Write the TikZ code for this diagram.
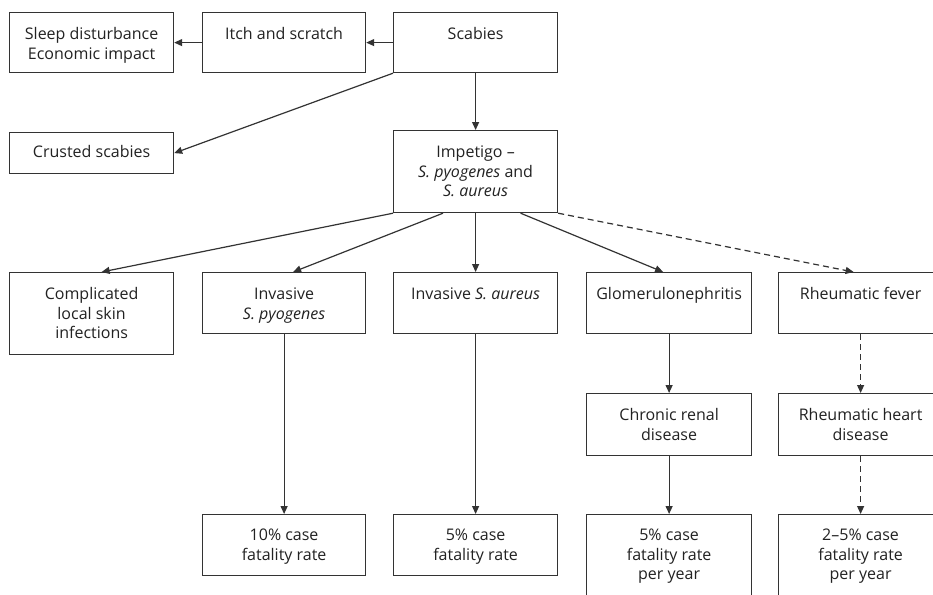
\documentclass[tikz,border=0pt]{standalone}
\usepackage{fontspec}
\setmainfont{Open Sans}
\usetikzlibrary{arrows.meta}
\definecolor{linec}{HTML}{333333}
\definecolor{textc}{HTML}{222222}
\newcommand\bxt[4]{\parbox[c][#2][t]{#1}{\centering\rule{0pt}{#3}#4\par}}
\tikzset{
  box/.style={draw=linec, line width=1.2pt, inner sep=0pt, anchor=north west, text=textc,
    font=\fontsize{16}{19.5}\selectfont},
  arr/.style={draw=linec, line width=1.2pt, -{Triangle[length=8pt,width=7pt]}},
  darr/.style={arr, dash pattern=on 6pt off 4pt}
}
\begin{document}
\begin{tikzpicture}[x=1pt,y=-1pt]
\useasboundingbox (0,0) rectangle (933,594);
\clip (0,0) rectangle (933,594);
\fill[white] (0,0) rectangle (933,594);
% row 1
\node[box] (sleep) at (9,12) {\bxt{164pt}{60pt}{27pt}{Sleep disturbance\\Economic impact}};
\node[box] (itch) at (202,12) {\bxt{163pt}{60pt}{27pt}{Itch and scratch}};
\node[box] (scab) at (393,12) {\bxt{164pt}{60pt}{27pt}{Scabies}};
% row 2
\node[box] (crust) at (9,132) {\bxt{164pt}{41pt}{25pt}{Crusted scabies}};
\node[box] (imp) at (393,130) {\bxt{164pt}{82pt}{27pt}{Impetigo --\\\textit{S. pyogenes} and\\\textit{S. aureus}}};
% row 3
\node[box] (comp) at (9,272) {\bxt{164pt}{82pt}{27pt}{Complicated\\local skin\\infections}};
\node[box] (pyo) at (202,272) {\bxt{163pt}{61pt}{27pt}{Invasive\\\textit{S. pyogenes}}};
\node[box] (aur) at (393,272) {\bxt{164pt}{61pt}{27pt}{Invasive \textit{S. aureus}}};
\node[box] (glom) at (586,272) {\bxt{165pt}{61pt}{27pt}{Glomerulonephritis}};
\node[box] (rf) at (778,272) {\bxt{164pt}{61pt}{27pt}{Rheumatic fever}};
% row 4
\node[box] (crd) at (586,393) {\bxt{165pt}{62pt}{27pt}{Chronic renal\\disease}};
\node[box] (rhd) at (778,393) {\bxt{164pt}{62pt}{27pt}{Rheumatic heart\\disease}};
% row 5
\node[box] (f10) at (202,514) {\bxt{163pt}{61pt}{26pt}{10\% case\\fatality rate}};
\node[box] (f5) at (393,514) {\bxt{164pt}{61pt}{26pt}{5\% case\\fatality rate}};
\node[box] (fg) at (586,514) {\bxt{165pt}{84pt}{26pt}{5\% case\\fatality rate\\per year}};
\node[box] (fr) at (778,514) {\bxt{164pt}{84pt}{26pt}{2--5\% case\\fatality rate\\per year}};
% connectors
\draw[arr] (scab.west) -- (itch.east);
\draw[arr] (itch.west) -- (sleep.east);
\draw[arr] (scab.south west) -- (crust.east);
\draw[arr] (scab.south) -- (imp.north);
\draw[arr] (imp.south west) -- ([xshift=10pt]comp.north);
\draw[arr] ([xshift=50pt]imp.south west) -- ([xshift=9pt]pyo.north);
\draw[arr] (imp.south) -- (aur.north);
\draw[arr] ([xshift=45pt]imp.south) -- ([xshift=-6pt]glom.north);
\draw[darr] (imp.south east) -- ([xshift=-7pt]rf.north);
\draw[arr] (pyo.south) -- (f10.north);
\draw[arr] (aur.south) -- (f5.north);
\draw[arr] (glom.south) -- (crd.north);
\draw[arr] (crd.south) -- (fg.north);
\draw[darr] (rf.south) -- (rhd.north);
\draw[darr] (rhd.south) -- (fr.north);
\end{tikzpicture}
\end{document}
